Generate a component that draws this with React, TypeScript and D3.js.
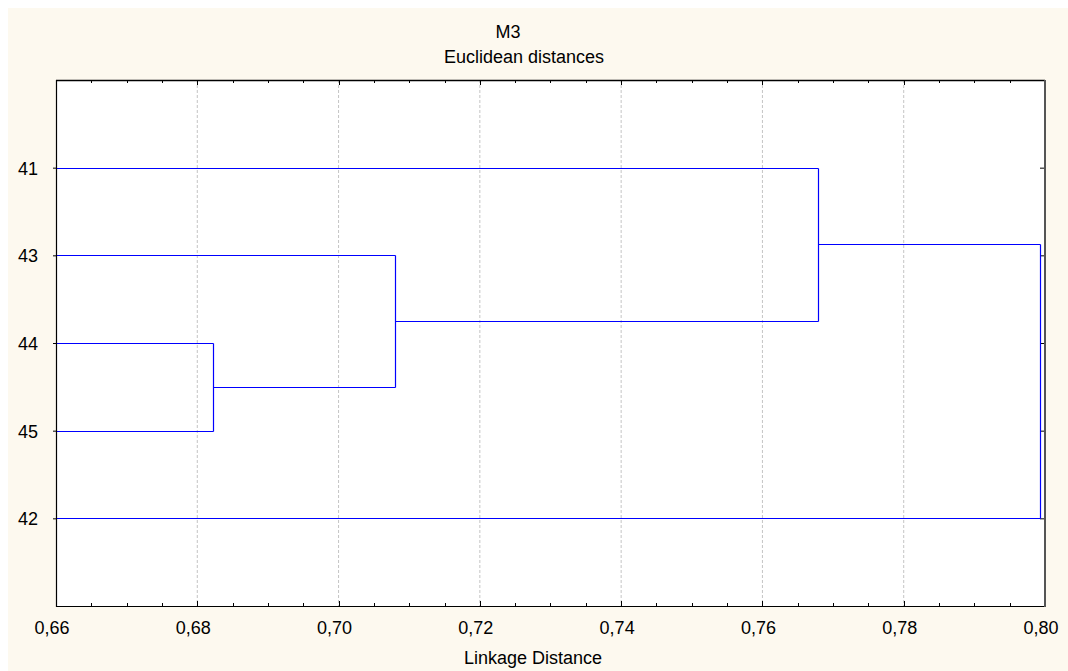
import React from "react";
import * as d3 from "d3";

const leaves: string[] = ["41", "43", "44", "45", "42"];
// merges: [childA, childB, linkage distance]; children are leaf labels or "m#" ids
const mergeIds: string[] = ["m1", "m2", "m3", "m4"];
const mergeA: string[] = ["44", "43", "41", "m3"];
const mergeB: string[] = ["45", "m1", "m2", "42"];
const mergeDist: number[] = [0.6822, 0.708, 0.7679, 0.7993];
const xTicks: number[] = [0.66, 0.68, 0.7, 0.72, 0.74, 0.76, 0.78, 0.8];
const title1 = "M3";
const title2 = "Euclidean distances";
const xTitle = "Linkage Distance";

const FONT = "'Liberation Sans', Arial, sans-serif";

export default function App() {
  const left = 56, right = 1045, top = 80, bottom = 606;
  const x = d3.scaleLinear().domain([0.66, 0.8]).range([left, right]);
  const y = d3.scalePoint<string>().domain(leaves).range([top, bottom]).padding(1);

  const pos: Record<string, { x: number; y: number }> = {};
  leaves.forEach((l) => (pos[l] = { x: 0.66, y: y(l)! }));
  const segs: { x1: number; y1: number; x2: number; y2: number }[] = [];
  mergeIds.forEach((id, i) => {
    const a = pos[mergeA[i]], b = pos[mergeB[i]];
    const d = mergeDist[i];
    segs.push({ x1: x(a.x), y1: a.y, x2: x(d), y2: a.y });
    segs.push({ x1: x(b.x), y1: b.y, x2: x(d), y2: b.y });
    segs.push({ x1: x(d), y1: a.y, x2: x(d), y2: b.y });
    pos[id] = { x: d, y: (a.y + b.y) / 2 };
  });

  const minor = d3.range(0, 29).map((i) => 0.66 + i * 0.005);
  const fmt = (v: number) => d3.format(".2f")(v).replace(".", ",");

  return (
    <svg width={1068} height={671} style={{ position: "absolute", left: 0, top: 0 }}>
      <rect x={8} y={8} width={1060} height={663} fill="#fdf9ef" />
      <rect x={left} y={top} width={right - left} height={bottom - top} fill="#ffffff" />
      {xTicks.slice(1, -1).map((t) => (
        <line key={"g" + t} x1={x(t)} x2={x(t)} y1={top} y2={bottom} stroke="#c4c4c4" strokeDasharray="3,2" strokeWidth={1} />
      ))}
      {minor.map((t, i) => {
        const major = i % 4 === 0;
        const len = major ? 5 : 3;
        const xx = Math.round(x(t)) + 0.5;
        return (
          <g key={"t" + i}>
            <line x1={xx} x2={xx} y1={bottom} y2={bottom - len} stroke="#000" />
            <line x1={xx} x2={xx} y1={top} y2={top + len} stroke="#000" />
          </g>
        );
      })}
      {leaves.map((l) => (
        <g key={"yl" + l}>
          <line x1={left - 3} x2={left} y1={y(l)! + 0.5} y2={y(l)! + 0.5} stroke="#000" />
          <line x1={right - 5} x2={right} y1={y(l)! + 0.5} y2={y(l)! + 0.5} stroke="#000" />
          <text x={38} y={y(l)! + 7} textAnchor="end" fontFamily={FONT} fontSize={18} fill="#000">
            {l}
          </text>
        </g>
      ))}
      {segs.map((s, i) => (
        <line
          key={"s" + i}
          x1={Math.round(s.x1) + 0.5}
          y1={Math.round(s.y1) + 0.5}
          x2={Math.round(s.x2) + 0.5}
          y2={Math.round(s.y2) + 0.5}
          stroke="#0000ff"
          strokeWidth={1.2}
        />
      ))}
      <line x1={left + 0.5} x2={left + 0.5} y1={top} y2={bottom + 1} stroke="#000" strokeWidth={1.2} />
      <line x1={left} x2={right} y1={top + 0.5} y2={top + 0.5} stroke="#000" strokeWidth={1.4} />
      <line x1={left} x2={right} y1={bottom + 0.5} y2={bottom + 0.5} stroke="#000" strokeWidth={1.2} />
      <line x1={right} x2={right} y1={top} y2={bottom + 1} stroke="#555" strokeWidth={2} />
      {xTicks.map((t) => (
        <text key={"xl" + t} x={x(t) - 4} y={634} textAnchor="middle" fontFamily={FONT} fontSize={18} fill="#000">
          {fmt(t)}
        </text>
      ))}
      <text x={508} y={38} textAnchor="middle" fontFamily={FONT} fontSize={18} fill="#000">{title1}</text>
      <text x={524} y={63} textAnchor="middle" fontFamily={FONT} fontSize={18} fill="#000">{title2}</text>
      <text x={533} y={664} textAnchor="middle" fontFamily={FONT} fontSize={18} fill="#000">{xTitle}</text>
    </svg>
  );
}
